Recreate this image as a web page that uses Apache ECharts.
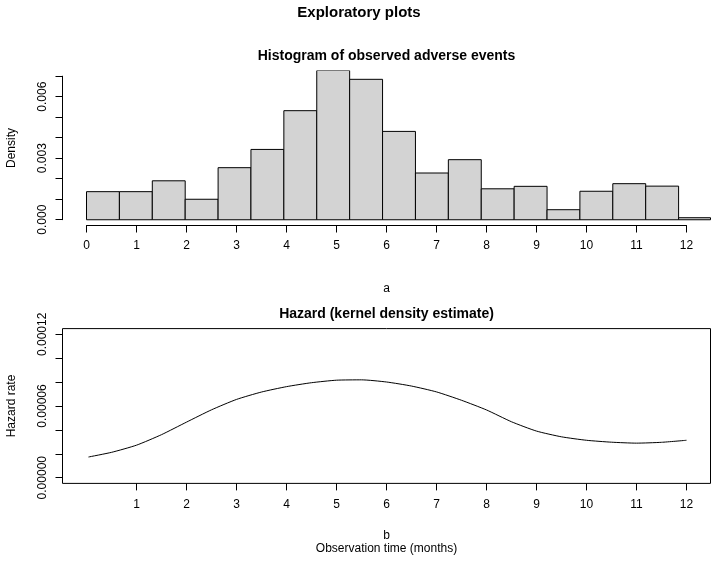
<!DOCTYPE html>
<html>
<head>
<meta charset="utf-8">
<script src="https://cdn.jsdelivr.net/npm/echarts@6/dist/echarts.min.js"></script>
<style>
html,body{margin:0;padding:0;background:#fff;}
#chart{width:718px;height:563px;}
</style>
</head>
<body>
<div id="chart"></div>
<script>
// ---- Data ----
var histBreaks = [0, 0.658, 1.316, 1.974, 2.632, 3.289, 3.947, 4.605, 5.263, 5.921, 6.579,
                  7.237, 7.895, 8.553, 9.211, 9.868, 10.526, 11.184, 11.842, 12.5];
var histDensity = [0.00137, 0.00137, 0.00190, 0.00100, 0.00254, 0.00343, 0.00532, 0.00760,
                   0.00685, 0.00431, 0.00228, 0.00293, 0.00151, 0.00163, 0.00049, 0.00139,
                   0.00176, 0.00164, 0.00010];
var hazardTime = [0.04, 0.5, 1.0, 1.5, 2.0, 2.5, 3.0, 3.5, 4.0, 4.5, 5.0, 5.5, 6.0, 6.5, 7.0,
                  7.5, 8.0, 8.5, 9.0, 9.5, 10.0, 10.5, 11.0, 11.5, 12.0];
var hazardRate = [1.73e-5, 2.12e-5, 2.72e-5, 3.60e-5, 4.65e-5, 5.68e-5, 6.55e-5, 7.17e-5, 7.62e-5,
                  7.95e-5, 8.16e-5, 8.19e-5, 8.01e-5, 7.67e-5, 7.18e-5, 6.48e-5, 5.67e-5, 4.68e-5,
                  3.90e-5, 3.42e-5, 3.13e-5, 2.97e-5, 2.89e-5, 2.96e-5, 3.13e-5];
var histXTicks = [0, 12];
var histYTicks = [0, 0.007, 0.001];
var hazXTicks = [1, 12];
var hazYTicks = [0, 0.00012, 0.00002];

var mainTitle = 'Exploratory plots';
var histTitle = 'Histogram of observed adverse events';
var hazTitle = 'Hazard (kernel density estimate)';

// ---- Build ----
var histData = histDensity.map(function (d, i) { return [histBreaks[i], histBreaks[i + 1], d]; });
var hazData = hazardTime.map(function (t, i) { return [t, hazardRate[i]]; });

var FONT = '"Liberation Sans", Arial, Helvetica, sans-serif';
var labelStyle = { color: '#000', fontSize: 12, fontFamily: FONT };
var lineStyleBlack = { color: '#000', width: 1 };

var chart = echarts.init(document.getElementById('chart'), null, { renderer: 'canvas' });

function hiddenAxis(extra) {
  return Object.assign({ type: 'value', show: false, splitLine: { show: false } }, extra);
}

var option = {
  backgroundColor: '#fff',
  animation: false,
  grid: [
    { left: 62.5, width: 648, top: 70.5, height: 155, containLabel: false },
    { left: 86.5, width: 600, top: 224.5, height: 1 },
    { left: 62.5, width: 1, top: 76.2, height: 143.5 },
    { left: 62.5, width: 648, top: 328.6, height: 154.8, show: true, borderColor: '#000', borderWidth: 1, backgroundColor: 'transparent' },
    { left: 136.5, width: 550, top: 482.4, height: 1 },
    { left: 62.5, width: 1, top: 334.3, height: 143.4 }
  ],
  xAxis: [
    hiddenAxis({ gridIndex: 0, min: -0.48, max: 12.48 }),
    {
      type: 'value', gridIndex: 1, min: histXTicks[0], max: histXTicks[1], interval: 1,
      position: 'bottom',
      axisLine: { show: true, lineStyle: lineStyleBlack },
      axisTick: { show: true, length: 7, lineStyle: lineStyleBlack },
      axisLabel: Object.assign({ margin: 14, showMinLabel: true, showMaxLabel: true }, labelStyle),
      splitLine: { show: false }
    },
    hiddenAxis({ gridIndex: 2, min: 0, max: 1 }),
    hiddenAxis({ gridIndex: 3, min: -0.48, max: 12.48 }),
    {
      type: 'value', gridIndex: 4, min: hazXTicks[0], max: hazXTicks[1], interval: 1,
      position: 'bottom',
      axisLine: { show: false },
      axisTick: { show: true, length: 7, lineStyle: lineStyleBlack },
      axisLabel: Object.assign({ margin: 15, showMinLabel: true, showMaxLabel: true }, labelStyle),
      splitLine: { show: false }
    },
    hiddenAxis({ gridIndex: 5, min: 0, max: 1 })
  ],
  yAxis: [
    hiddenAxis({ gridIndex: 0, min: -0.00028, max: 0.00728 }),
    hiddenAxis({ gridIndex: 1, min: 0, max: 1 }),
    {
      type: 'value', gridIndex: 2, min: histYTicks[0], max: histYTicks[1], interval: histYTicks[2],
      position: 'left',
      axisLine: { show: true, lineStyle: lineStyleBlack },
      axisTick: { show: true, length: 7, lineStyle: lineStyleBlack },
      axisLabel: Object.assign({
        margin: 14, rotate: 90, showMinLabel: true, showMaxLabel: true,
        formatter: function (v) {
          var k = Math.round(v / histYTicks[2]);
          return (k % 3 === 0) ? (k * histYTicks[2]).toFixed(3) : '';
        }
      }, labelStyle),
      splitLine: { show: false }
    },
    hiddenAxis({ gridIndex: 3, min: -0.0000048, max: 0.0001248 }),
    hiddenAxis({ gridIndex: 4, min: 0, max: 1 }),
    {
      type: 'value', gridIndex: 5, min: hazYTicks[0], max: hazYTicks[1], interval: hazYTicks[2],
      position: 'left',
      axisLine: { show: false },
      axisTick: { show: true, length: 7, lineStyle: lineStyleBlack },
      axisLabel: Object.assign({
        margin: 14, rotate: 90, showMinLabel: true, showMaxLabel: true,
        formatter: function (v) {
          var k = Math.round(v / hazYTicks[2]);
          return (k % 3 === 0) ? (k * hazYTicks[2]).toFixed(5) : '';
        }
      }, labelStyle),
      splitLine: { show: false }
    }
  ],
  series: [
    {
      type: 'custom',
      xAxisIndex: 0, yAxisIndex: 0,
      clip: true,
      data: histData,
      encode: { x: [0, 1], y: 2 },
      renderItem: function (params, api) {
        var p0 = api.coord([api.value(0), 0]);
        var p1 = api.coord([api.value(1), api.value(2)]);
        var rect = { x: p0[0], y: p1[1], width: p1[0] - p0[0], height: p0[1] - p1[1] };
        var cs = params.coordSys;
        var clipped = echarts.graphic.clipRectByRect(rect, { x: cs.x, y: cs.y, width: cs.width, height: cs.height });
        if (!clipped) return;
        return {
          type: 'rect',
          shape: clipped,
          style: { fill: '#d3d3d3', stroke: '#000', lineWidth: 1 }
        };
      }
    },
    {
      type: 'line',
      xAxisIndex: 3, yAxisIndex: 3,
      data: hazData,
      smooth: 0.2,
      symbol: 'none',
      lineStyle: { color: '#000', width: 1 },
      silent: true
    }
  ],
  graphic: [
    { type: 'text', x: 359, y: 13, style: { text: mainTitle, font: 'bold 15px ' + FONT, fill: '#000', textAlign: 'center', textVerticalAlign: 'middle' } },
    { type: 'text', x: 386.5, y: 56, style: { text: histTitle, font: 'bold 14px ' + FONT, fill: '#000', textAlign: 'center', textVerticalAlign: 'middle' } },
    { type: 'text', x: 386.5, y: 314, style: { text: hazTitle, font: 'bold 14px ' + FONT, fill: '#000', textAlign: 'center', textVerticalAlign: 'middle' } },
    { type: 'text', x: 386.5, y: 289, style: { text: 'a', font: '12px ' + FONT, fill: '#000', textAlign: 'center', textVerticalAlign: 'middle' } },
    { type: 'text', x: 386.5, y: 536, style: { text: 'b', font: '12px ' + FONT, fill: '#000', textAlign: 'center', textVerticalAlign: 'middle' } },
    { type: 'text', x: 386.5, y: 549, style: { text: 'Observation time (months)', font: '12px ' + FONT, fill: '#000', textAlign: 'center', textVerticalAlign: 'middle' } },
    { type: 'text', x: 12, y: 148, rotation: Math.PI / 2, style: { text: 'Density', font: '12px ' + FONT, fill: '#000', textAlign: 'center', textVerticalAlign: 'middle' } },
    { type: 'text', x: 12, y: 406, rotation: Math.PI / 2, style: { text: 'Hazard rate', font: '12px ' + FONT, fill: '#000', textAlign: 'center', textVerticalAlign: 'middle' } }
  ]
};
chart.setOption(option);
</script>
</body>
</html>
